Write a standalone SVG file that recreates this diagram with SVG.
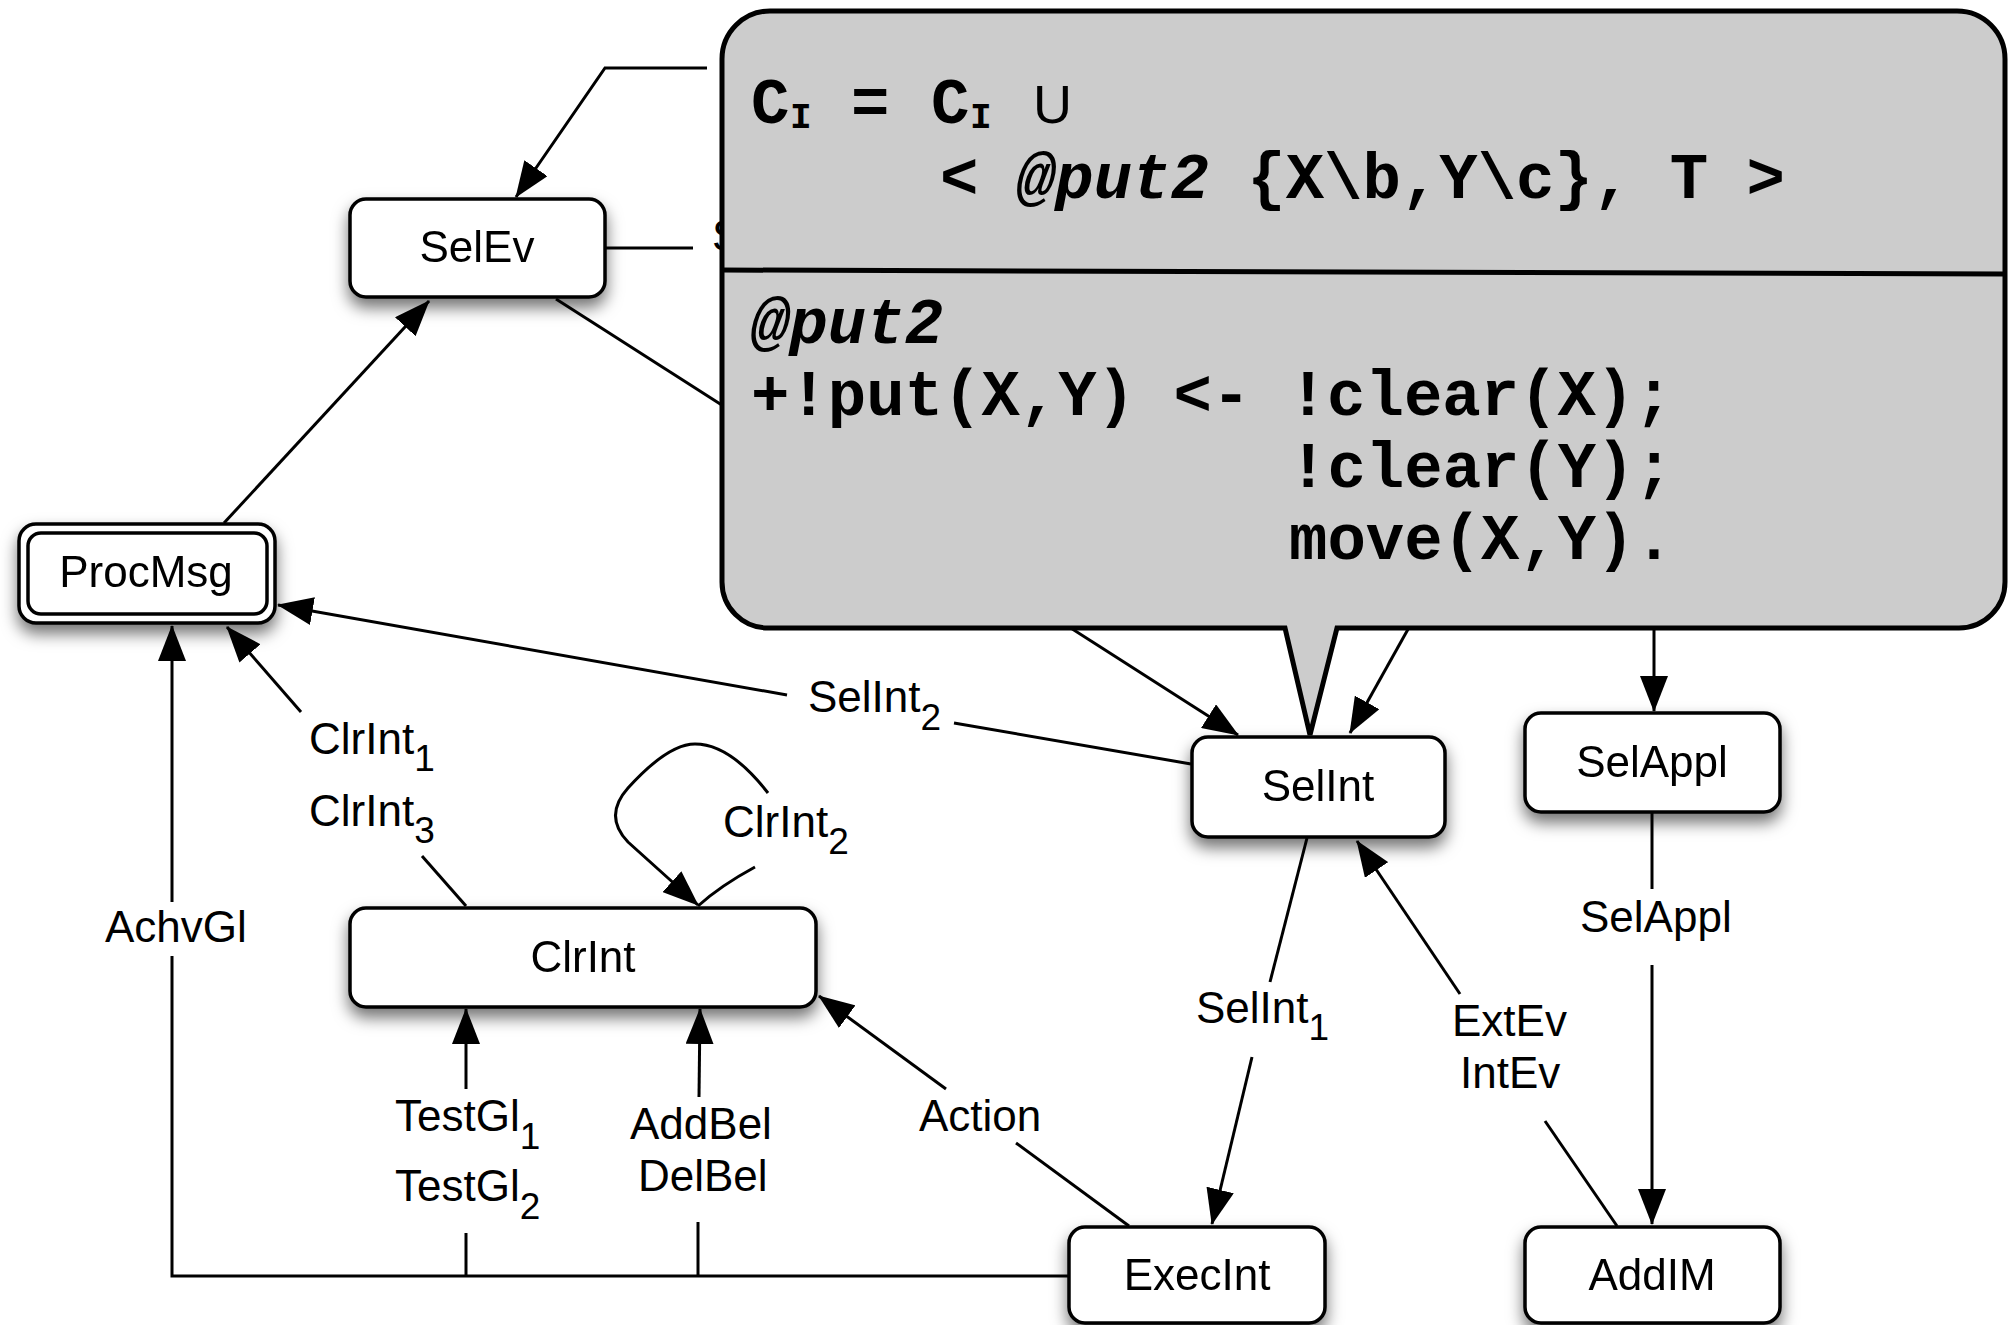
<svg xmlns="http://www.w3.org/2000/svg" width="2008" height="1325" viewBox="0 0 2008 1325">
  <style>
    .box { fill: #ffffff; stroke: #000000; stroke-width: 3.5; }
    .lbl { font-family: "Liberation Sans", Arial, Helvetica, sans-serif; font-size: 44px; fill: #000000; }
    .nlbl { font-family: "Liberation Sans", Arial, Helvetica, sans-serif; font-size: 44px; fill: #000000; text-anchor: middle; }
    .sub { font-size: 37px; }
    .edge { fill: none; stroke: #000000; stroke-width: 3; }
    .code { font-family: "Liberation Mono", "Courier New", monospace; font-weight: bold; font-size: 64px; fill: #000000; }
    .csub { font-family: "Liberation Mono", "Courier New", monospace; font-weight: bold; font-size: 36px; fill: #000000; }
    .it { font-style: italic; }
  </style>
  <defs>
    <marker id="arrow" viewBox="0 0 36 28" refX="35" refY="14" markerWidth="36" markerHeight="28" markerUnits="userSpaceOnUse" orient="auto">
      <path d="M0,0 L36,14 L0,28 Z" fill="#000000"/>
    </marker>
    <filter id="shadow" x="-20%" y="-30%" width="140%" height="190%">
      <feDropShadow dx="0" dy="9" stdDeviation="8" flood-color="#000000" flood-opacity="0.55"/>
    </filter>
  </defs>

  <rect width="2008" height="1325" fill="#ffffff"/>

  <!-- connectors -->
  <g id="connectors">
    <polyline class="edge" points="707,68 605,68 516,197" marker-end="url(#arrow)"/>
    <line class="edge" x1="606" y1="248" x2="693" y2="248"/>
    <text class="lbl" x="712" y="251">S</text>
    <line class="edge" x1="556" y1="299" x2="1238" y2="735" marker-end="url(#arrow)"/>
    <line class="edge" x1="1440" y1="572" x2="1350" y2="733" marker-end="url(#arrow)"/>
    <line class="edge" x1="1654" y1="600" x2="1654" y2="711" marker-end="url(#arrow)"/>
    <line class="edge" x1="224" y1="523" x2="429" y2="301" marker-end="url(#arrow)"/>

    <!-- SelInt -> ProcMsg -->
    <line class="edge" x1="1191" y1="764" x2="954" y2="723"/>
    <line class="edge" x1="787" y1="695" x2="278" y2="605" marker-end="url(#arrow)"/>
    <text class="lbl" x="808" y="712">SelInt<tspan class="sub" dy="18">2</tspan></text>

    <!-- ClrInt -> ProcMsg -->
    <line class="edge" x1="466" y1="906" x2="422" y2="856"/>
    <line class="edge" x1="301" y1="712" x2="227" y2="627" marker-end="url(#arrow)"/>
    <text class="lbl" x="309" y="754">ClrInt<tspan class="sub" dy="17">1</tspan></text>
    <text class="lbl" x="309" y="826">ClrInt<tspan class="sub" dy="17">3</tspan></text>

    <!-- ClrInt self loop -->
    <path class="edge" d="M768,793 Q730,744 695,744 Q668,744 628,788 Q603,816 628,842 L698,905" marker-end="url(#arrow)"/>
    <path class="edge" d="M755,867 Q720,886 698,906"/>
    <text class="lbl" x="723" y="837">ClrInt<tspan class="sub" dy="17">2</tspan></text>

    <!-- ExecInt -> ProcMsg (AchvGl) -->
    <polyline class="edge" points="1069,1276 172,1276 172,956"/>
    <line class="edge" x1="172" y1="902" x2="172" y2="626" marker-end="url(#arrow)"/>
    <text class="lbl" x="105" y="942">AchvGl</text>

    <!-- TestGl -->
    <line class="edge" x1="466" y1="1276" x2="466" y2="1233"/>
    <line class="edge" x1="466" y1="1089" x2="466" y2="1009" marker-end="url(#arrow)"/>
    <text class="lbl" x="395" y="1131">TestGl<tspan class="sub" dy="18">1</tspan></text>
    <text class="lbl" x="395" y="1201">TestGl<tspan class="sub" dy="18">2</tspan></text>

    <!-- AddBel / DelBel -->
    <line class="edge" x1="698" y1="1276" x2="698" y2="1222"/>
    <line class="edge" x1="699" y1="1097" x2="700" y2="1009" marker-end="url(#arrow)"/>
    <text class="lbl" x="630" y="1139">AddBel</text>
    <text class="lbl" x="638" y="1191">DelBel</text>

    <!-- Action -->
    <line class="edge" x1="1129" y1="1226" x2="1016" y2="1143"/>
    <line class="edge" x1="946" y1="1089" x2="819" y2="996" marker-end="url(#arrow)"/>
    <text class="lbl" x="919" y="1131">Action</text>

    <!-- SelInt -> ExecInt -->
    <line class="edge" x1="1307" y1="838" x2="1270" y2="982"/>
    <line class="edge" x1="1252" y1="1057" x2="1212" y2="1224" marker-end="url(#arrow)"/>
    <text class="lbl" x="1196" y="1023">SelInt<tspan class="sub" dy="17">1</tspan></text>

    <!-- AddIM -> SelInt -->
    <line class="edge" x1="1617" y1="1226" x2="1545" y2="1121"/>
    <line class="edge" x1="1460" y1="994" x2="1357" y2="841" marker-end="url(#arrow)"/>
    <text class="lbl" x="1452" y="1036">ExtEv</text>
    <text class="lbl" x="1460" y="1088">IntEv</text>

    <!-- SelAppl -> AddIM -->
    <line class="edge" x1="1652" y1="813" x2="1652" y2="889"/>
    <line class="edge" x1="1652" y1="965" x2="1652" y2="1224" marker-end="url(#arrow)"/>
    <text class="lbl" x="1580" y="932">SelAppl</text>
  </g>

  <!-- nodes -->
  <g id="node-selev" filter="url(#shadow)">
    <rect class="box" x="350" y="199" width="255" height="98" rx="16"/>
    <text class="nlbl" x="477" y="262">SelEv</text>
  </g>
  <g id="node-procmsg" filter="url(#shadow)">
    <rect class="box" x="19" y="524" width="256" height="99" rx="17"/>
    <rect class="box" x="28" y="533" width="239" height="81" rx="13"/>
    <text class="nlbl" x="146" y="587">ProcMsg</text>
  </g>
  <g id="node-clrint" filter="url(#shadow)">
    <rect class="box" x="350" y="908" width="466" height="99" rx="16"/>
    <text class="nlbl" x="583" y="972">ClrInt</text>
  </g>
  <g id="node-selint" filter="url(#shadow)">
    <rect class="box" x="1192" y="737" width="253" height="100" rx="16"/>
    <text class="nlbl" x="1318" y="801">SelInt</text>
  </g>
  <g id="node-selappl" filter="url(#shadow)">
    <rect class="box" x="1525" y="713" width="255" height="99" rx="16"/>
    <text class="nlbl" x="1652" y="777">SelAppl</text>
  </g>
  <g id="node-execint" filter="url(#shadow)">
    <rect class="box" x="1069" y="1227" width="256" height="96" rx="16"/>
    <text class="nlbl" x="1197" y="1290">ExecInt</text>
  </g>
  <g id="node-addim" filter="url(#shadow)">
    <rect class="box" x="1525" y="1227" width="255" height="96" rx="16"/>
    <text class="nlbl" x="1652" y="1290">AddIM</text>
  </g>

  <!-- callout with the plan rule -->
  <g id="callout">
    <path d="M770,11 H1957 A48,48 0 0 1 2005,59 V582 A46,46 0 0 1 1959,628 H1337 L1310,735 L1285,628 H768 A46,46 0 0 1 722,582 V59 A48,48 0 0 1 770,11 Z" fill="#cccccc" stroke="#000000" stroke-width="5" stroke-linejoin="miter"/>
    <line x1="722" y1="270" x2="2005" y2="274" stroke="#000000" stroke-width="5"/>
    <text class="code" x="751" y="123">C</text>
    <text class="csub" x="790" y="128">I</text>
    <text class="code" x="851" y="123">=</text>
    <text class="code" x="931" y="123">C</text>
    <text class="csub" x="970" y="128">I</text>
    <text class="lbl" x="1033" y="123" style="font-size:54px">U</text>
    <text class="code" x="940" y="198" xml:space="preserve">&lt; <tspan class="it">@put2</tspan> {X\b,Y\c}, T &gt;</text>
    <text class="code it" x="751" y="343">@put2</text>
    <text class="code" x="751" y="415" xml:space="preserve">+!put(X,Y) &lt;- !clear(X);</text>
    <text class="code" x="1289" y="487">!clear(Y);</text>
    <text class="code" x="1289" y="559">move(X,Y).</text>
  </g>
</svg>
